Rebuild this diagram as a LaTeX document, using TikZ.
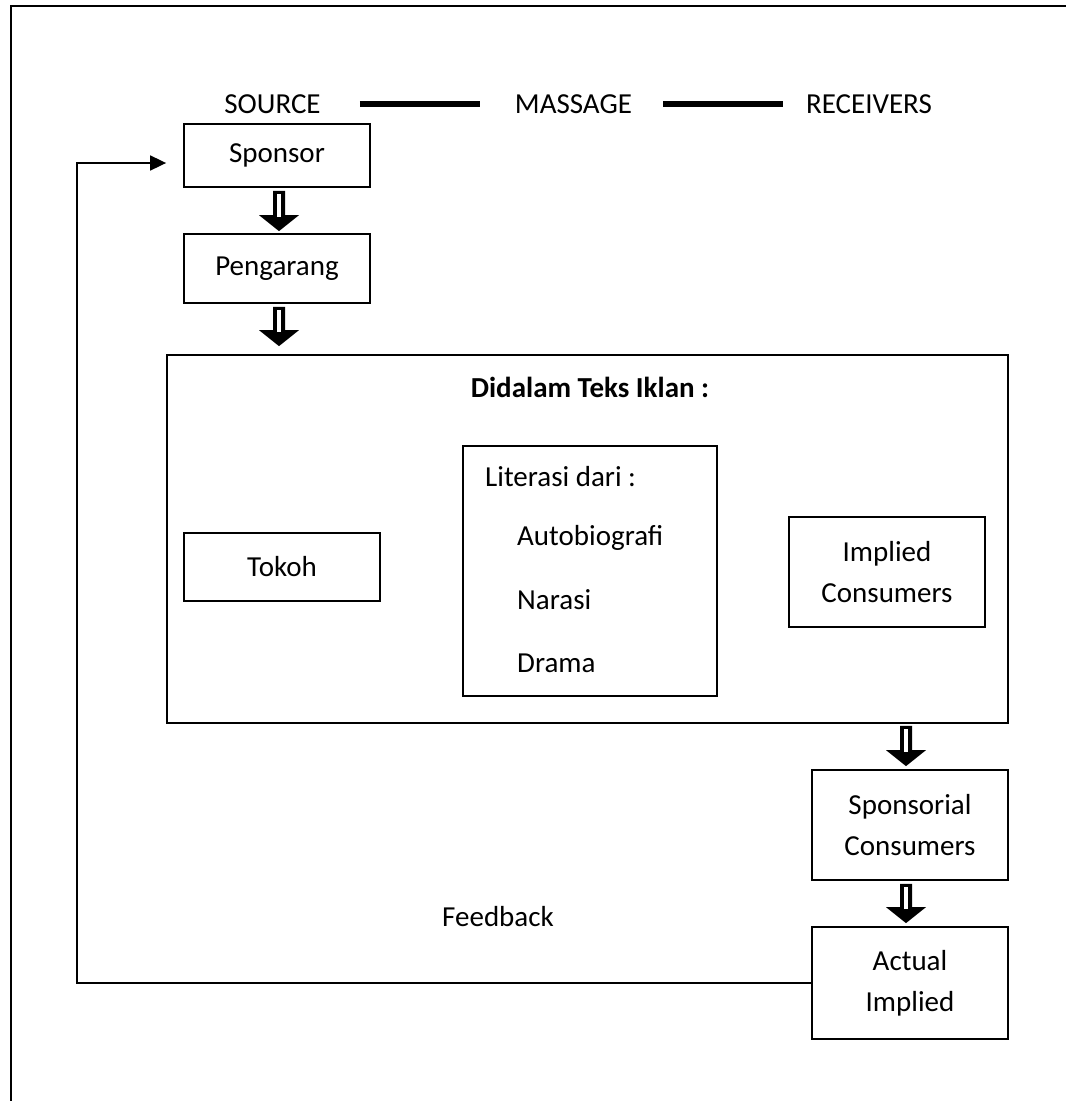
\documentclass[tikz,border=0pt]{standalone}
\usepackage{fontspec}
\setmainfont{Carlito}
\usetikzlibrary{arrows.meta,calc}
\newcommand{\blkarrow}[2]{%
  \fill let \p1=(#1), \p2=(#2) in
    ({\x1-6pt},{\y1}) -- ({\x1+6pt},{\y1}) -- ({\x1+6pt},{\y2+16pt}) --
    ({\x1+20pt},{\y2+16pt}) -- ({\x1},{\y2}) -- ({\x1-20pt},{\y2+16pt}) --
    ({\x1-6pt},{\y2+16pt}) -- cycle;
  \fill[white] let \p1=(#1), \p2=(#2) in
    ({\x1-2pt},{\y1-3pt}) rectangle ({\x1+2pt},{\y2+14pt});
}
\tikzset{
  txt/.style={font=\fontsize{29}{41}\selectfont, inner sep=0pt},
  box/.style={txt, draw, line width=1.8pt, align=center},
  thickline/.style={line width=6pt},
  fbline/.style={line width=1.8pt, -{Triangle[length=16pt,width=15pt]}},
  frame/.style={line width=2.5pt}
}
\begin{document}
\begin{tikzpicture}[x=1pt,y=-1pt]
\useasboundingbox (0,0) rectangle (1066,1101);
% outer frame
\draw[frame] (11,1101) -- (11,6) -- (1066,6);
% top row
\node[txt] (source) at (272.5,104) {SOURCE};
\node[txt] (massage) at (573.5,104) {MASSAGE};
\node[txt] (receivers) at (869,104) {RECEIVERS};
\draw[thickline, shorten <=39pt, shorten >=35pt] (source.east) -- (massage.west);
\draw[thickline, shorten <=31pt, shorten >=23pt] (massage.east) -- (receivers.west);
% left column
\node[box, minimum width=186pt, minimum height=63pt] (sponsor) at (277,155.5) {Sponsor};
\node[box, minimum width=186pt, minimum height=69pt] (pengarang) at (277,268.5) {Pengarang};
% big box
\node[box, minimum width=841pt, minimum height=368pt] (bigbox) at (587.5,539) {};
\node[txt, font=\fontsize{29}{41}\selectfont\bfseries] (didalam) at (590,387) {Didalam Teks Iklan :};
\node[box, minimum width=254pt, minimum height=250pt] (literasi) at (590,571) {};
\node[txt, anchor=west] (litdari) at (485,477) {Literasi dari :};
\node[txt, anchor=west] (auto) at (517,538) {Autobiografi};
\node[txt, anchor=west] (narasi) at (517,600) {Narasi};
\node[txt, anchor=west] (drama) at (517,663) {Drama};
\node[box, minimum width=196pt, minimum height=68pt] (tokoh) at (282,567) {Tokoh};
\node[box, minimum width=196pt, minimum height=110pt] (implied) at (887,572) {Implied\\Consumers};
% right column
\node[box, minimum width=196pt, minimum height=110pt] (sponsorial) at (910,825) {Sponsorial\\Consumers};
\node[box, minimum width=196pt, minimum height=112pt] (actual) at (910,983) {Actual\\Implied};
\node[txt] (feedback) at (498,917) {Feedback};
% block arrows
\path (sponsor.south) ++(2,3) coordinate (a1t);
\path (pengarang.north) ++(2,-2) coordinate (a1b);
\blkarrow{a1t}{a1b}
\path (pengarang.south) ++(2,3) coordinate (a2t);
\path (a2t |- bigbox.north) ++(0,-8) coordinate (a2b);
\blkarrow{a2t}{a2b}
\path (sponsorial.north) ++(-4,-3) coordinate (a3b);
\path (a3b |- bigbox.south) ++(0,2) coordinate (a3t);
\blkarrow{a3t}{a3b}
\path (sponsorial.south) ++(-4,3) coordinate (a4t);
\path (actual.north) ++(-4,-3) coordinate (a4b);
\blkarrow{a4t}{a4b}
% feedback loop
\coordinate (fbc) at (77,163);
\draw[fbline, shorten >=17pt] (actual.west) -| (fbc) -- (fbc -| sponsor.west);
\end{tikzpicture}
\end{document}
